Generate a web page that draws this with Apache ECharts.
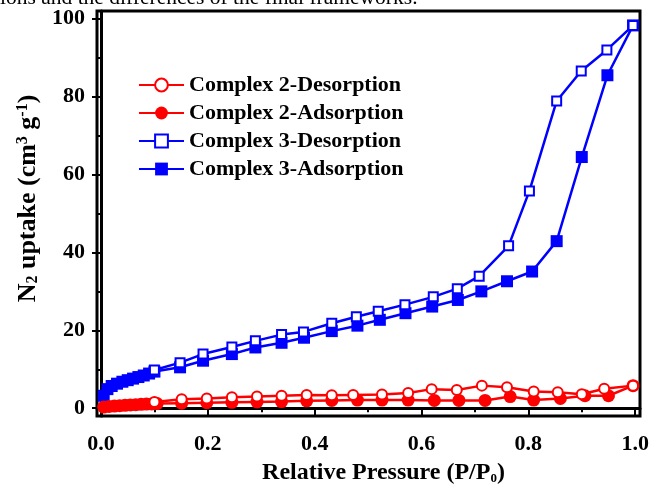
<!DOCTYPE html>
<html>
<head>
<meta charset="utf-8">
<script src="https://cdn.jsdelivr.net/npm/echarts@6/dist/echarts.min.js"></script>
<style>
  html, body { margin: 0; padding: 0; background: #fff; }
  #box { width: 652px; height: 490px; }
</style>
</head>
<body>
<div id="box"></div>
<script>
// Complex 3 (blue squares)
var c3AdsP = [0.005, 0.012, 0.02, 0.03, 0.04, 0.05, 0.06, 0.07, 0.08, 0.09, 0.10, 0.148, 0.191, 0.245, 0.289, 0.338, 0.38, 0.432, 0.48, 0.522, 0.57, 0.62, 0.668, 0.712, 0.76, 0.807, 0.853, 0.9, 0.948, 0.996];
var c3AdsV = [3.2, 4.9, 5.7, 6.3, 6.8, 7.2, 7.6, 8.0, 8.4, 8.9, 9.4, 10.5, 12.2, 13.9, 15.6, 16.8, 18.1, 19.8, 21.2, 22.7, 24.4, 26.1, 27.8, 30.0, 32.6, 35.1, 42.9, 64.5, 85.5, 98.3];
var c3DesP = [0.996, 0.947, 0.899, 0.853, 0.802, 0.763, 0.708, 0.667, 0.622, 0.569, 0.519, 0.478, 0.432, 0.379, 0.338, 0.289, 0.245, 0.191, 0.148, 0.10];
var c3DesV = [98.3, 92.0, 86.6, 78.9, 55.8, 41.7, 33.9, 30.7, 28.6, 26.6, 24.9, 23.5, 21.8, 19.6, 18.9, 17.3, 15.7, 13.9, 11.7, 9.8];

// Complex 2 (red circles)
var c2AdsP = [0.005, 0.015, 0.025, 0.035, 0.045, 0.055, 0.065, 0.075, 0.085, 0.095, 0.105, 0.151, 0.198, 0.245, 0.292, 0.338, 0.385, 0.432, 0.48, 0.526, 0.575, 0.624, 0.67, 0.719, 0.766, 0.81, 0.86, 0.906, 0.95, 0.996];
var c2AdsV = [0.3, 0.45, 0.55, 0.65, 0.75, 0.85, 0.9, 1.0, 1.05, 1.1, 1.2, 1.3, 1.4, 1.5, 1.6, 1.7, 1.9, 2.0, 2.1, 2.1, 2.1, 2.0, 2.0, 2.0, 3.0, 2.1, 2.5, 3.2, 3.2, 5.8];
var c2DesP = [0.996, 0.942, 0.9, 0.855, 0.81, 0.76, 0.713, 0.666, 0.619, 0.575, 0.526, 0.472, 0.432, 0.385, 0.338, 0.292, 0.245, 0.198, 0.151, 0.10];
var c2DesV = [5.8, 5.0, 3.6, 4.1, 4.3, 5.4, 5.8, 4.7, 4.9, 3.9, 3.5, 3.4, 3.3, 3.4, 3.2, 3.0, 2.8, 2.5, 2.3, 1.6];

// tick labels
var xLabels = [0, 0.2, 0.4, 0.6, 0.8, 1.0];
var xMinor = [0.1, 0.3, 0.5, 0.7, 0.9];
var yLabels = [0, 20, 40, 60, 80, 100];
var yMinor = [10, 30, 50, 70, 90];

function pairs(px, py) {
	var out = [];
	for (var i = 0; i < px.length; i++) {
		out.push([px[i], py[i]]);
	}
	return out;
}

var FONT = 'Liberation Serif';
var RED = '#ff0000';
var BLUE = '#0000ff';

var chartDom = document.getElementById('box');
var myChart = echarts.init(chartDom, null, { renderer: 'canvas' });

var xBase = { min: -0.0075, max: 1.009 };
var yBase = { min: -2, max: 102 };

var option = {
	animation: false,
	backgroundColor: '#fff',
	title: {
		text: 'ions and the differences of the final frameworks.',
		left: 0,
		top: -13,
		padding: 0,
		textStyle: { fontFamily: FONT, fontWeight: 'normal', fontSize: 21.5, color: '#000' }
	},
	grid: {
		left: 97, right: 12, top: 11, bottom: 71,
		show: true, borderColor: '#000', borderWidth: 3
	},
	legend: {
		data: ['Complex 2-Desorption', 'Complex 2-Adsorption', 'Complex 3-Desorption', 'Complex 3-Adsorption'],
		orient: 'vertical',
		left: 138,
		top: 74,
		padding: 0,
		itemWidth: 45,
		itemHeight: 16,
		itemGap: 6,
		textStyle: { fontFamily: FONT, fontWeight: 'bold', fontSize: 22, lineHeight: 22, color: '#000' }
	},
	xAxis: [{
		type: 'value',
		min: xBase.min, max: xBase.max,
		axisLine: { show: true, lineStyle: { color: '#000', width: 3 } },
		axisTick: { show: true, inside: false, length: 7, lineStyle: { color: '#000', width: 2 }, customValues: xLabels },
		axisLabel: {
			customValues: xLabels, margin: 17, color: '#000',
			fontFamily: FONT, fontWeight: 'bold', fontSize: 22,
			formatter: function(v) { return v.toFixed(1); }
		},
		splitLine: { show: false },
		name: 'Relative Pressure (P/P{sub|0})',
		nameLocation: 'middle',
		nameGap: 45,
		nameTextStyle: {
			fontFamily: FONT, fontWeight: 'bold', fontSize: 24, color: '#000',
			padding: [0, 0, 0, 30],
			rich: { sub: { fontFamily: FONT, fontWeight: 'bold', fontSize: 13, verticalAlign: 'bottom', padding: [10, 0, 0, 0] } }
		}
	}, {
		type: 'value',
		min: xBase.min, max: xBase.max,
		position: 'bottom',
		axisLine: { show: false },
		axisTick: { show: true, inside: false, length: 4, lineStyle: { color: '#000', width: 2 }, customValues: xMinor },
		axisLabel: { show: false },
		splitLine: { show: false }
	}],
	yAxis: [{
		type: 'value',
		min: yBase.min, max: yBase.max,
		axisLine: { show: true, lineStyle: { color: '#000', width: 3 } },
		axisTick: { show: true, inside: false, length: 9, lineStyle: { color: '#000', width: 2 }, customValues: yLabels },
		axisLabel: {
			customValues: yLabels, margin: 12, color: '#000',
			fontFamily: FONT, fontWeight: 'bold', fontSize: 22
		},
		splitLine: { show: false },
		name: 'N{sub|2} uptake (cm{sup|3} g{sup|-1})',
		nameLocation: 'middle',
		nameRotate: 90,
		nameGap: 54,
		nameTextStyle: {
			fontFamily: FONT, fontWeight: 'bold', fontSize: 26, color: '#000',
			padding: [0, 0, 0, 30],
			rich: {
				sub: { fontFamily: FONT, fontWeight: 'bold', fontSize: 16, verticalAlign: 'bottom', padding: [10, 0, 0, 0] },
				sup: { fontFamily: FONT, fontWeight: 'bold', fontSize: 16, verticalAlign: 'top', padding: [0, 0, 10, 0] }
			}
		}
	}, {
		type: 'value',
		min: yBase.min, max: yBase.max,
		position: 'left',
		axisLine: { show: false },
		axisTick: { show: true, inside: false, length: 5, lineStyle: { color: '#000', width: 2 }, customValues: yMinor },
		axisLabel: { show: false },
		splitLine: { show: false }
	}],
	series: [{
			name: 'Complex 3-Adsorption',
			type: 'line',
			data: pairs(c3AdsP, c3AdsV),
			symbol: 'rect',
			symbolSize: 12,
			showAllSymbol: true,
			lineStyle: { color: BLUE, width: 2.5 },
			itemStyle: { color: BLUE }
		},
		{
			name: 'Complex 3-Desorption',
			type: 'line',
			data: pairs(c3DesP, c3DesV),
			symbol: 'emptyRect',
			symbolSize: 9,
			showAllSymbol: true,
			lineStyle: { color: BLUE, width: 2.5 },
			itemStyle: { color: BLUE, borderColor: BLUE, borderWidth: 3.5 }
		},
		{
			name: 'Complex 2-Adsorption',
			type: 'line',
			data: pairs(c2AdsP, c2AdsV),
			symbol: 'circle',
			symbolSize: 13,
			showAllSymbol: true,
			lineStyle: { color: RED, width: 2.5 },
			itemStyle: { color: RED }
		},
		{
			name: 'Complex 2-Desorption',
			type: 'line',
			data: pairs(c2DesP, c2DesV),
			symbol: 'emptyCircle',
			symbolSize: 10,
			showAllSymbol: true,
			lineStyle: { color: RED, width: 2.5 },
			itemStyle: { color: RED, borderColor: RED, borderWidth: 3.5 }
		}
	]
};

myChart.setOption(option);
</script>
</body>
</html>
